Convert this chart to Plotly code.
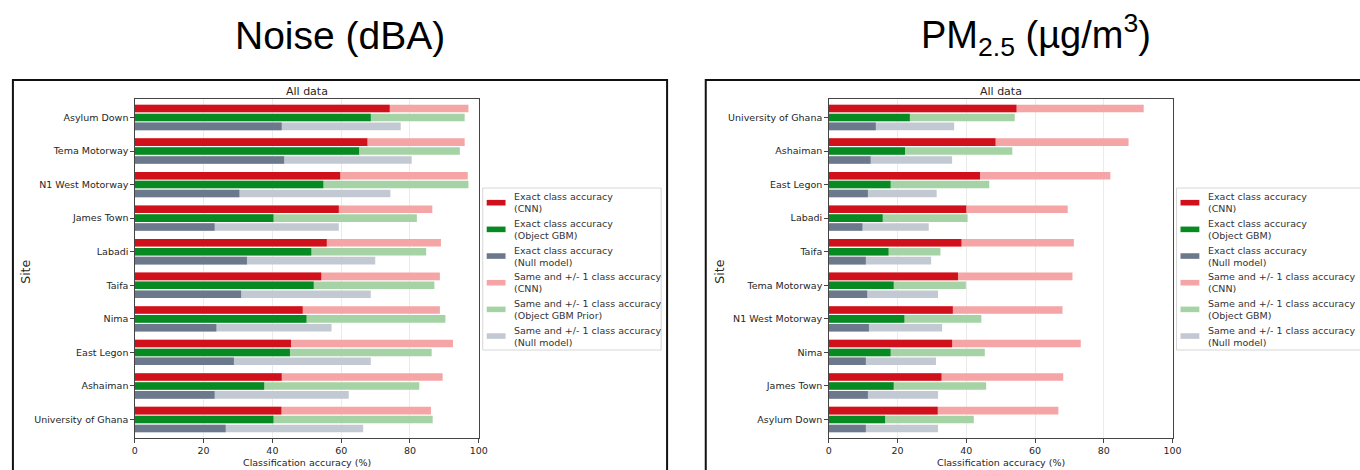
import plotly.graph_objects as go

# ---------------- data ----------------
noise_sites = ["Asylum Down", "Tema Motorway", "N1 West Motorway", "James Town", "Labadi",
               "Taifa", "Nima", "East Legon", "Ashaiman", "University of Ghana"]
noise_cnn_exact = [74.1, 67.6, 59.7, 59.3, 55.8, 54.2, 48.8, 45.4, 42.7, 42.6]
noise_cnn_pm1 = [97.0, 95.9, 96.8, 86.5, 89.0, 88.7, 88.7, 92.5, 89.5, 86.1]
noise_gbm_exact = [68.6, 65.2, 54.8, 40.3, 51.3, 52.0, 49.9, 45.1, 37.6, 40.3]
noise_gbm_pm1 = [95.9, 94.5, 97.0, 82.0, 84.7, 87.1, 90.3, 86.3, 82.7, 86.6]
noise_null_exact = [42.7, 43.4, 30.4, 23.2, 32.6, 30.9, 23.7, 28.8, 23.2, 26.4]
noise_null_pm1 = [77.3, 80.5, 74.3, 59.3, 69.9, 68.6, 57.2, 68.6, 62.2, 66.4]

pm_sites = ["University of Ghana", "Ashaiman", "East Legon", "Labadi", "Taifa",
            "Tema Motorway", "N1 West Motorway", "Nima", "James Town", "Asylum Down"]
pm_cnn_exact = [54.6, 48.5, 44.0, 40.0, 38.6, 37.6, 36.1, 35.9, 32.8, 31.7]
pm_cnn_pm1 = [91.6, 87.2, 81.9, 69.5, 71.3, 70.9, 68.0, 73.3, 68.2, 66.8]
pm_gbm_exact = [23.6, 22.2, 18.0, 15.7, 17.4, 18.9, 22.0, 18.0, 18.9, 16.4]
pm_gbm_pm1 = [54.1, 53.4, 46.7, 40.4, 32.5, 39.9, 44.4, 45.4, 45.8, 42.2]
pm_null_exact = [13.7, 12.2, 11.4, 9.8, 10.8, 11.2, 11.7, 10.8, 11.4, 10.8]
pm_null_pm1 = [36.5, 35.9, 31.4, 29.1, 29.8, 31.8, 33.0, 31.2, 31.8, 31.8]

noise_legend = ["Exact class accuracy<br>(CNN)", "Exact class accuracy<br>(Object GBM)",
                "Exact class accuracy<br>(Null model)", "Same and +/- 1 class accuracy<br>(CNN)",
                "Same and +/- 1 class accuracy<br>(Object GBM Prior)",
                "Same and +/- 1 class accuracy<br>(Null model)"]
pm_legend = ["Exact class accuracy<br>(CNN)", "Exact class accuracy<br>(Object GBM)",
             "Exact class accuracy<br>(Null model)", "Same and +/- 1 class accuracy<br>(CNN)",
             "Same and +/- 1 class accuracy<br>(Object GBM)",
             "Same and +/- 1 class accuracy<br>(Null model)"]

x_ticks = [0, 20, 40, 60, 80, 100]

# ---------------- styling ----------------
W, H = 1360, 470
DARK = ["#d0111c", "#078a22", "#6c788b"]
LIGHT = ["#f5a5a5", "#a5d3a5", "#c3c9d2"]
TXT = "#262626"
FONT = "DejaVu Sans"


def px(x):
    return x / W


def py(y):
    return 1 - y / H


fig = go.Figure()

panels = [
    dict(sites=noise_sites, exact=[noise_cnn_exact, noise_gbm_exact, noise_null_exact],
         pm1=[noise_cnn_pm1, noise_gbm_pm1, noise_null_pm1], labels=noise_legend,
         xa="x", ya="y", dx=0),
    dict(sites=pm_sites, exact=[pm_cnn_exact, pm_gbm_exact, pm_null_exact],
         pm1=[pm_cnn_pm1, pm_gbm_pm1, pm_null_pm1], labels=pm_legend,
         xa="x2", ya="y2", dx=700),
]

shapes = []
annotations = []

for p in panels:
    for k in range(3):
        # wider "+/- 1 class" bar underneath, exact-class bar on top, sharing one slot
        fig.add_trace(go.Bar(y=p["sites"], x=p["pm1"][k], orientation="h",
                             marker=dict(color=LIGHT[k], line=dict(width=0)),
                             offsetgroup=str(k), xaxis=p["xa"], yaxis=p["ya"],
                             showlegend=False, hoverinfo="skip"))
        fig.add_trace(go.Bar(y=p["sites"], x=p["exact"][k], orientation="h",
                             marker=dict(color=DARK[k], line=dict(width=0)),
                             offsetgroup=str(k), xaxis=p["xa"], yaxis=p["ya"],
                             showlegend=False, hoverinfo="skip"))

    dx = p["dx"]
    # subplot heading and axis titles
    annotations.append(dict(text="All data", x=px(306.5 + dx), y=py(91), xref="paper", yref="paper",
                            showarrow=False, font=dict(family=FONT, size=11, color=TXT),
                            xanchor="center", yanchor="middle"))
    annotations.append(dict(text="Classification accuracy (%)", x=px(306.5 + dx), y=py(462),
                            xref="paper", yref="paper", showarrow=False,
                            font=dict(family=FONT, size=9.5, color=TXT),
                            xanchor="center", yanchor="middle"))
    annotations.append(dict(text="Site", x=px(22 + dx), y=py(272), xref="paper", yref="paper",
                            showarrow=False, textangle=-90,
                            font=dict(family=FONT, size=12.5, color=TXT),
                            xanchor="center", yanchor="middle"))

    # legend frame, patches and labels
    shapes.append(dict(type="rect", xref="paper", yref="paper",
                       x0=px(484 + dx), x1=px(664 + dx + (60 if dx else 0)),
                       y0=py(350), y1=py(188),
                       line=dict(color="#d6d6d6", width=1), fillcolor="white", layer="above"))
    colors = DARK + LIGHT
    for i, (lab, col) in enumerate(zip(p["labels"], colors)):
        cy = 202.7 + 26.67 * i
        shapes.append(dict(type="rect", xref="paper", yref="paper",
                           x0=px(488 + dx), x1=px(507 + dx), y0=py(cy + 2.8), y1=py(cy - 2.8),
                           line=dict(width=0), fillcolor=col, layer="above"))
        annotations.append(dict(text=lab, x=px(514 + dx), y=py(cy), xref="paper", yref="paper",
                                showarrow=False, align="left", xanchor="left", yanchor="middle",
                                font=dict(family=FONT, size=9.5, color="#333333")))

# outer frames around each panel
shapes.append(dict(type="rect", xref="paper", yref="paper", x0=px(10), x1=px(670),
                   y0=-0.1, y1=py(80), line=dict(color="#111111", width=2), layer="above"))
shapes.append(dict(type="rect", xref="paper", yref="paper", x0=px(709), x1=1.1,
                   y0=-0.1, y1=py(80), line=dict(color="#111111", width=2), layer="above"))

# large panel titles
annotations.append(dict(text="Noise (dBA)", x=px(340), y=py(35), xref="paper", yref="paper",
                        showarrow=False, xanchor="center", yanchor="middle",
                        font=dict(family="Liberation Sans", size=39, color="black")))
annotations.append(dict(text="PM<sub>2.5</sub> (µg/m<sup>3</sup>)", x=px(1042), y=py(35),
                        xref="paper", yref="paper", showarrow=False, xanchor="center",
                        yanchor="middle",
                        font=dict(family="Liberation Sans", size=38, color="black")))

xaxis_common = dict(range=[0, 100], tickvals=x_ticks, showgrid=True, gridcolor="#ebebeb",
                    gridwidth=1, showline=True, linecolor="#444444", linewidth=1, mirror=True,
                    ticks="outside", ticklen=3.5, tickwidth=0.8, tickcolor="#444444",
                    tickfont=dict(family=FONT, size=9.5, color=TXT), zeroline=False,
                    fixedrange=True)
yaxis_common = dict(range=[9.55, -0.55], showgrid=False, showline=True, linecolor="#444444",
                    linewidth=1, mirror=True, ticks="outside", ticklen=3.5, tickwidth=0.8,
                    tickcolor="#444444", tickfont=dict(family=FONT, size=9.5, color=TXT),
                    zeroline=False, fixedrange=True, type="category")

fig.update_layout(
    width=W, height=H, margin=dict(l=0, r=0, t=0, b=0),
    paper_bgcolor="white", plot_bgcolor="white",
    barmode="group", bargap=0.205, bargroupgap=0.15,
    xaxis=dict(domain=[px(133), px(480)], anchor="y", **xaxis_common),
    yaxis=dict(domain=[py(438), py(99)], anchor="x", **yaxis_common),
    xaxis2=dict(domain=[px(833), px(1180)], anchor="y2", **xaxis_common),
    yaxis2=dict(domain=[py(438), py(99)], anchor="x2", **yaxis_common),
    shapes=shapes, annotations=annotations, showlegend=False,
)

fig.write_html("out.html")
